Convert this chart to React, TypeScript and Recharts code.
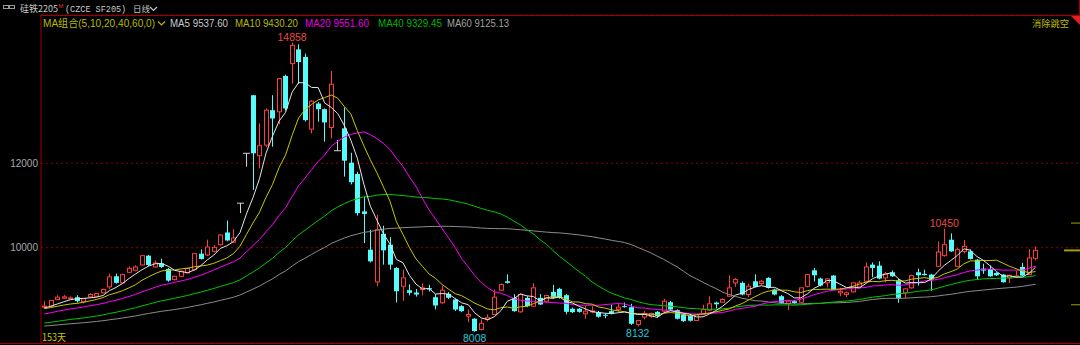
import React from 'react';
import { ComposedChart, Bar, Line, XAxis, YAxis, CartesianGrid, ReferenceDot, ReferenceLine } from 'recharts';

// ---- data (153 daily candles) ----
const opens = [
  8590, 8614, 8772, 8803, 8800, 8826, 8720, 8835, 8850, 8930,
  9072, 9322, 9166, 9417, 9464, 9591, 9811, 9543, 9630, 9496,
  9244, 9322, 9402, 9480, 9858, 9827, 9913, 10071, 10361, 10134,
  11055, 12237, 13614, 12180, 12432, 13259, 13220, 14070, 14362, 14700,
  14520, 12811, 13417, 13283, 12850, 12298, 12827, 12015, 11748, 10860,
  9953, 9190, 10330, 10071, 9520, 9086, 8992, 8937, 9008, 9040,
  8826, 8694, 8906, 8772, 8614, 8378, 8316, 8063, 8300, 8417,
  8992, 9204, 8812, 8480, 8812, 8614, 8812, 8732, 8953, 9024,
  8874, 8552, 8552, 8434, 8480, 8472, 8410, 8496, 8535, 8614,
  8590, 8181, 8354, 8370, 8480, 8496, 8708, 8519, 8417, 8380,
  8275, 8417, 8519, 8700, 8708, 8850, 9166, 9166, 8890, 9204,
  9150, 9284, 9008, 8850, 8677, 8732, 8708, 9086, 9464, 9268,
  9166, 9339, 8930, 8890, 8953, 9072, 9204, 9598, 9575, 9284,
  9417, 9228, 8930, 9048, 9417, 9380, 9362, 9559, 9811, 10189,
  9559, 9913, 9913, 9716, 9504, 9496, 9400, 9362, 9284, 9300,
  9543, 9362, 9748,
];
const highs = [
  8740, 8760, 8874, 8880, 8850, 8874, 8800, 8920, 8930, 9030,
  9386, 9386, 9380, 9560, 9580, 9830, 9830, 9700, 9740, 9520,
  9340, 9460, 9530, 9870, 9960, 10190, 10060, 10320, 10645, 10441,
  11055, 12237, 13614, 12945, 13300, 13614, 14008, 14100, 14858, 14820,
  14600, 13500, 13450, 13300, 14188, 12551, 13323, 12250, 11800, 11212,
  10425, 10780, 10520, 10250, 9540, 9480, 9130, 9020, 9150, 9120,
  8900, 9100, 8950, 8800, 8640, 8535, 8330, 8300, 8420, 9008,
  9150, 9370, 8900, 8920, 8850, 9160, 8900, 8880, 9120, 9050,
  8900, 8580, 8570, 8614, 8614, 8500, 8450, 8650, 8670, 8700,
  8670, 8290, 8500, 8460, 8500, 8790, 8740, 8540, 8440, 8400,
  8430, 8650, 8850, 8720, 8800, 9346, 9284, 9200, 9150, 9370,
  9240, 9300, 9030, 8880, 8760, 8760, 9060, 9380, 9520, 9290,
  9280, 9350, 9050, 8960, 9180, 9220, 9650, 9650, 9680, 9420,
  9460, 9260, 9040, 9360, 9500, 9480, 9380, 10150, 10450, 10340,
  10000, 10180, 9960, 9730, 9620, 9580, 9420, 9380, 9360, 9450,
  9640, 9970, 10031,
];
const lows = [
  8570, 8600, 8760, 8790, 8780, 8700, 8680, 8820, 8830, 8920,
  9016, 9150, 9150, 9400, 9440, 9580, 9560, 9530, 9520, 9190,
  9220, 9300, 9390, 9460, 9720, 9800, 9890, 10050, 10150, 10120,
  10820, 11920, 11370, 11883, 12380, 12393, 12930, 13250, 13890, 13880,
  12990, 12709, 12985, 12511, 12590, 12298, 11685, 11500, 10760, 10110,
  9650, 9086, 9598, 9480, 8700, 8740, 8870, 8840, 8870, 8960,
  8535, 8660, 8780, 8500, 8470, 8240, 8008, 8040, 8250, 8400,
  8970, 9150, 8480, 8460, 8590, 8600, 8640, 8700, 8800, 8790,
  8420, 8450, 8460, 8316, 8450, 8340, 8330, 8420, 8480, 8580,
  8170, 8132, 8300, 8340, 8350, 8480, 8520, 8300, 8240, 8250,
  8260, 8400, 8500, 8560, 8690, 8830, 9072, 8870, 8830, 9060,
  9120, 9030, 8870, 8670, 8519, 8670, 8690, 9060, 9200, 9080,
  9060, 9000, 8850, 8830, 8940, 9060, 9190, 9300, 9250, 9180,
  9310, 8694, 8800, 9030, 9100, 9340, 8980, 9540, 9790, 9900,
  9540, 9860, 9720, 9250, 9380, 9310, 9330, 9170, 9160, 9280,
  9330, 9350, 9700,
];
const closes = [
  8614, 8748, 8826, 8834, 8810, 8732, 8790, 8890, 8913, 9008,
  9308, 9166, 9362, 9511, 9543, 9811, 9591, 9638, 9543, 9220,
  9322, 9441, 9511, 9858, 9733, 10016, 10008, 10300, 10172, 10229,
  11055, 12237, 12237, 12417, 13259, 13063, 14008, 13299, 14795, 14400,
  13023, 13472, 13283, 12969, 13874, 12298, 12062, 11552, 10820, 10800,
  9677, 10425, 9937, 9598, 8968, 9284, 8930, 8890, 9048, 9008,
  8630, 8992, 8812, 8535, 8496, 8417, 8023, 8205, 8340, 8826,
  9126, 9166, 8496, 8890, 8614, 9048, 8654, 8866, 8812, 8812,
  8480, 8472, 8480, 8496, 8500, 8363, 8395, 8441, 8590, 8590,
  8197, 8276, 8441, 8441, 8380, 8732, 8535, 8316, 8260, 8270,
  8417, 8535, 8670, 8660, 8772, 9048, 9244, 8890, 9087, 9072,
  9204, 9048, 8890, 8694, 8732, 8690, 9048, 9362, 9346, 9102,
  9260, 9008, 8968, 8930, 9166, 9166, 9543, 9520, 9268, 9378,
  9322, 8812, 9024, 9339, 9346, 9350, 9244, 9898, 10071, 9913,
  9953, 10031, 9733, 9322, 9457, 9322, 9346, 9181, 9346, 9330,
  9339, 9756, 9937,
];
// closes of the 59 sessions before the window (estimated so the MA lines start where the picture shows)
const priorCloses = [
  8050, 8010, 7980, 7960, 8000, 8040, 8020, 7990, 7970, 7950,
  7990, 8030, 8060, 8020, 7980, 7960, 7990, 8020, 8040, 8000,
  7980, 7950, 7920, 7960, 8010, 8050, 8030, 7990, 7960, 7940,
  7970, 8010, 8040, 8070, 8050, 8010, 7990, 7980, 8020, 8060,
  8120, 8180, 8230, 8260, 8300, 8290, 8340, 8380, 8420, 8470,
  8490, 8520, 8550, 8560, 8580, 8540, 8560, 8570, 8570,
];
const maPeriods = [5, 10, 20, 40, 60];
const maColors = ['#e6e6e6', '#c8c800', '#ff00ff', '#00c800', '#8c8c8c'];
const yTicks = [10000, 12000];
const padCount = 6;
const extremes = [
  { i: 38, v: 14858, pos: 'top', color: '#e84848' },
  { i: 66, v: 8008, pos: 'bottom', color: '#20c8d8' },
  { i: 91, v: 8132, pos: 'bottom', color: '#20c8d8' },
  { i: 138, v: 10450, pos: 'top', color: '#e84848' },
];
const rightMarks = [10583, 9936, 8647];
const legend = [
  { text: 'MA组合(5,10,20,40,60,0)', color: '#b8b800' },
  { text: 'MA5 9537.60', color: '#c8c8c8' },
  { text: 'MA10 9430.20', color: '#b8b800' },
  { text: 'MA20 9551.60', color: '#e000e0' },
  { text: 'MA40 9329.45', color: '#00b400' },
  { text: 'MA60 9125.13', color: '#a0a0a0' },
];

const UP = '#ff3c3c';
const DOWN = '#54fcfc';
const DOJI = '#d0d0d0';
const FONT = "'Liberation Sans', Arial, 'Noto Sans CJK SC', sans-serif";
const CJK = "'Noto Sans CJK SC', 'Liberation Sans', sans-serif";

const history = [...priorCloses, ...closes];
const movingAverage = (period: number, i: number) => {
  const end = i + priorCloses.length;
  let s = 0;
  for (let k = end - period + 1; k <= end; k++) s += history[k];
  return s / period;
};

const data: any[] = [
  ...closes.map((c, i) => {
    const row: any = { i, o: opens[i], h: highs[i], l: lows[i], c, range: [lows[i], highs[i]] };
    maPeriods.forEach((p) => { row['ma' + p] = movingAverage(p, i); });
    return row;
  }),
  ...Array.from({ length: padCount }, (_, k) => ({ i: closes.length + k })),
];

const Candle = (props: any) => {
  const { x, y, width, height, payload } = props;
  if (!payload || payload.o == null || x == null || y == null) return null;
  const { o, h, l, c } = payload;
  const top = Math.min(y, y + height);
  const bot = Math.max(y, y + height);
  const span = h - l;
  const k = span > 0 ? (bot - top) / span : 0;
  const py = (v: number) => top + (h - v) * k;
  const cx = x + width / 2;
  const L = Math.round(cx - 2.5);
  const wx = L + 2.5;
  const yo = py(o);
  const yc = py(c);
  const bt = Math.min(yo, yc);
  const bb = Math.max(yo, yc);
  if (c > o) {
    return (
      <g>
        <line x1={wx} x2={wx} y1={top} y2={bt} stroke={UP} strokeWidth={1} />
        <line x1={wx} x2={wx} y1={bb} y2={bot} stroke={UP} strokeWidth={1} />
        <rect x={L + 0.5} y={bt} width={4} height={Math.max(bb - bt, 1)} fill="#000" stroke={UP} strokeWidth={1} />
      </g>
    );
  }
  if (c < o) {
    return (
      <g>
        <line x1={wx} x2={wx} y1={top} y2={bot} stroke={DOWN} strokeWidth={1} />
        <rect x={L} y={bt} width={5} height={Math.max(bb - bt, 1)} fill={DOWN} />
      </g>
    );
  }
  return (
    <g>
      <line x1={wx} x2={wx} y1={top} y2={bot} stroke={DOJI} strokeWidth={1} />
      <line x1={L - 1} x2={L + 6} y1={yo} y2={yo} stroke={DOJI} strokeWidth={1} />
    </g>
  );
};

const legendX = [43, 170, 235, 305, 378, 447];
const legendW = [112, 58, 63, 64, 64, 62];

export default function App() {
  return (
    <div style={{ position: 'absolute', left: 0, top: 0, width: 1080, height: 345, background: '#000', overflow: 'hidden' }}>
      <ComposedChart width={1080} height={345} data={data} margin={{ top: 15, right: 2, bottom: 2, left: 0 }}>
        <CartesianGrid horizontal vertical={false} stroke="#8c0000" strokeDasharray="2 3" />
        <XAxis dataKey="i" type="category" hide />
        <YAxis
          domain={[7741, 15515]}
          ticks={yTicks}
          interval={0}
          width={41}
          tickSize={0}
          tickMargin={3}
          tickLine={false}
          allowDataOverflow
          axisLine={{ stroke: '#a00000' }}
          tick={{ fill: '#a8a8a8', fontSize: 10, fontFamily: FONT }}
        />
        <Bar dataKey="range" barSize={5} shape={Candle} isAnimationActive={false} />
        {maPeriods.slice().reverse().map((p, idx) => (
          <Line
            key={p}
            dataKey={'ma' + p}
            stroke={maColors[maPeriods.length - 1 - idx]}
            strokeWidth={1}
            dot={false}
            activeDot={false}
            type="linear"
            isAnimationActive={false}
          />
        ))}
        {extremes.map((e) => (
          <ReferenceDot
            key={e.i}
            x={e.i}
            y={e.v}
            r={0}
            fill="none"
            stroke="none"
            ifOverflow="extendDomain"
            label={{ value: String(e.v), position: e.pos, offset: e.pos === 'bottom' ? 3 : 2, fill: e.color, fontSize: 10.5, fontFamily: FONT }}
          />
        ))}
        {rightMarks.map((v, idx) => (
          <ReferenceLine
            key={v}
            y={v}
            stroke="#a0a000"
            shape={(p: any) => (
              <line
                x1={p.x2 - (idx === 1 ? 14 : 7)}
                x2={p.x2 + 2}
                y1={p.y1}
                y2={p.y1}
                stroke="#a0a000"
                strokeWidth={idx === 1 ? 2 : 1}
              />
            )}
          />
        ))}
      </ComposedChart>
      <svg width={1080} height={345} style={{ position: 'absolute', left: 0, top: 0, pointerEvents: 'none' }}>
        <line x1={40} x2={1080} y1={15.5} y2={15.5} stroke="#a00000" />
        <line x1={0} x2={1080} y1={343.5} y2={343.5} stroke="#a00000" />
        <line x1={1079.5} x2={1079.5} y1={0} y2={15} stroke="#a00000" />
        <polygon points="1071,16 1080,16 1080,25" fill="#e02020" />
        {/* title row */}
        <rect x={3.5} y={5.5} width={5} height={3} fill="none" stroke="#9a9a9a" />
        <rect x={9.5} y={5.5} width={5} height={3} fill="none" stroke="#9a9a9a" />
        <text x={20} y={12} fontSize={9} fill="#c8c8c8" fontFamily={CJK}>硅铁2205</text>
        <text x={58.5} y={7.5} fontSize={6} fill="#e03030" fontFamily={FONT}>M</text>
        <text x={65} y={12} fontSize={8.5} fill="#c8c8c8" fontFamily="'Liberation Mono', monospace">(CZCE SF205)</text>
        <text x={133} y={12} fontSize={8.5} fill="#c8c8c8" fontFamily={CJK}>日线</text>
        <polyline points="150,7 153.5,10.5 157,7" fill="none" stroke="#c8c8c8" strokeWidth={1.2} />
        {/* MA legend row */}
        {legend.map((g, idx) => (
          <text key={g.text} x={legendX[idx]} y={26.5} fontSize={10.5} fill={g.color} fontFamily={FONT} textLength={legendW[idx]} lengthAdjust="spacingAndGlyphs">{g.text}</text>
        ))}
        <polyline points="158,21.5 161.5,25 165,21.5" fill="none" stroke="#b8b800" strokeWidth={1.2} />
        <text x={1032} y={27} fontSize={9.5} fill="#b8b800" fontFamily={CJK} textLength={37} lengthAdjust="spacingAndGlyphs">消除跳空</text>
        <text x={42} y={341} fontSize={10.5} fill="#c8c800" fontFamily={CJK} textLength={24} lengthAdjust="spacingAndGlyphs">153天</text>
      </svg>
    </div>
  );
}
